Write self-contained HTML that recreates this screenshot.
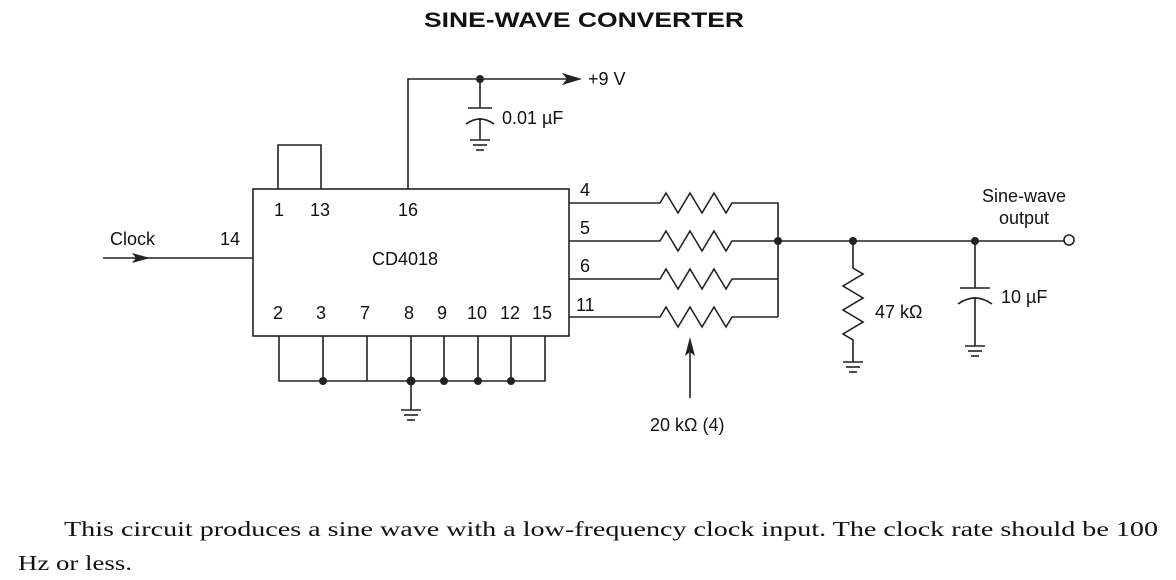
<!DOCTYPE html>
<html><head><style>
body{margin:0;background:#fff;width:1176px;height:580px;overflow:hidden}
svg{position:absolute;left:0;top:0}
text{font-family:"Liberation Sans",sans-serif;fill:#111}
</style></head><body>
<svg width="1176" height="580" viewBox="0 0 1176 580">
<g stroke="#222" stroke-width="1.6" fill="none">
<rect x="253" y="189" width="316" height="147"/>
<polyline points="278,189 278,145 321,145 321,189"/>
<polyline points="408,189 408,79 575,79"/>
<line x1="480" y1="79" x2="480" y2="108"/>
<line x1="468" y1="108" x2="492" y2="108"/>
<path d="M466,124 Q480,114 494,124"/>
<line x1="480" y1="118" x2="480" y2="140"/>
<line x1="470" y1="140" x2="490" y2="140"/><line x1="473" y1="145" x2="487" y2="145"/><line x1="476" y1="150" x2="484" y2="150"/>
<line x1="103" y1="258" x2="253" y2="258"/>
<polyline points="279,336 279,381 545,381 545,336"/>
<line x1="323" y1="336" x2="323" y2="381"/><line x1="367" y1="336" x2="367" y2="381"/>
<line x1="411" y1="336" x2="411" y2="410"/><line x1="444" y1="336" x2="444" y2="381"/>
<line x1="478" y1="336" x2="478" y2="381"/><line x1="511" y1="336" x2="511" y2="381"/>
<line x1="401" y1="410" x2="421" y2="410"/><line x1="404" y1="415" x2="418" y2="415"/><line x1="407" y1="420" x2="415" y2="420"/>
<path d="M569,203 H660 l6,-10 l12,20 l12,-20 l12,20 l12,-20 l12,20 l6,-10 H778 V317"/>
<path d="M569,241 H660 l6,-10 l12,20 l12,-20 l12,20 l12,-20 l12,20 l6,-10 H1064"/>
<path d="M569,279 H660 l6,-10 l12,20 l12,-20 l12,20 l12,-20 l12,20 l6,-10 H778"/>
<path d="M569,317 H660 l6,-10 l12,20 l12,-20 l12,20 l12,-20 l12,20 l6,-10 H778"/>
<path d="M853,241 V268 l10,6 l-20,12 l20,12 l-20,12 l20,12 l-20,12 l10,6 V362"/>
<line x1="843" y1="362" x2="863" y2="362"/><line x1="846" y1="367" x2="860" y2="367"/><line x1="849" y1="372" x2="857" y2="372"/>
<line x1="975" y1="241" x2="975" y2="288"/>
<line x1="960" y1="288" x2="990" y2="288"/>
<path d="M958,304 Q975,292 992,304"/>
<line x1="975" y1="297" x2="975" y2="346"/>
<line x1="965" y1="346" x2="985" y2="346"/><line x1="968" y1="351" x2="982" y2="351"/><line x1="971" y1="356" x2="979" y2="356"/>
<line x1="690" y1="398" x2="690" y2="345"/>
</g>
<circle cx="1069" cy="240" r="5" fill="#fff" stroke="#222" stroke-width="1.6"/>
<g fill="#222">
<polygon points="582,79 562,73 567,79 562,85"/>
<polygon points="150,258 132,253 136,258 132,263"/>
<polygon points="690,337 685,356 690,352 695,356"/>
<circle cx="480" cy="79" r="4"/>
<circle cx="323" cy="381" r="4"/><circle cx="411" cy="381" r="4.5"/><circle cx="444" cy="381" r="4"/><circle cx="478" cy="381" r="4"/><circle cx="511" cy="381" r="4"/>
<circle cx="778" cy="241" r="4"/><circle cx="853" cy="241" r="4"/><circle cx="975" cy="241" r="4"/>
</g>
<text x="424" y="27" font-size="21" font-weight="bold" textLength="320" lengthAdjust="spacingAndGlyphs">SINE-WAVE CONVERTER</text>
<g font-size="18">
<text x="588" y="85">+9 V</text>
<text x="502" y="124">0.01 µF</text>
<text x="110" y="245">Clock</text>
<text x="220" y="245">14</text>
<text x="274" y="216">1</text><text x="310" y="216">13</text><text x="398" y="216">16</text>
<text x="372" y="265">CD4018</text>
<text x="273" y="319">2</text><text x="316" y="319">3</text><text x="360" y="319">7</text>
<text x="404" y="319">8</text><text x="437" y="319">9</text><text x="467" y="319">10</text>
<text x="500" y="319">12</text><text x="532" y="319">15</text>
<text x="580" y="196">4</text><text x="580" y="234">5</text><text x="580" y="272">6</text><text x="576" y="311">11</text>
<text x="875" y="318">47 kΩ</text>
<text x="1001" y="303">10 µF</text>
<text x="1024" y="202" text-anchor="middle">Sine-wave</text>
<text x="1024" y="224" text-anchor="middle">output</text>
<text x="650" y="431">20 kΩ (4)</text>
</g>
<text x="64" y="536" font-size="21" textLength="1094" lengthAdjust="spacingAndGlyphs" style="font-family:'Liberation Serif',serif">This circuit produces a sine wave with a low-frequency clock input. The clock rate should be 100</text>
<text x="18" y="570" font-size="21" textLength="114" lengthAdjust="spacingAndGlyphs" style="font-family:'Liberation Serif',serif">Hz or less.</text>
</svg>
</body></html>
